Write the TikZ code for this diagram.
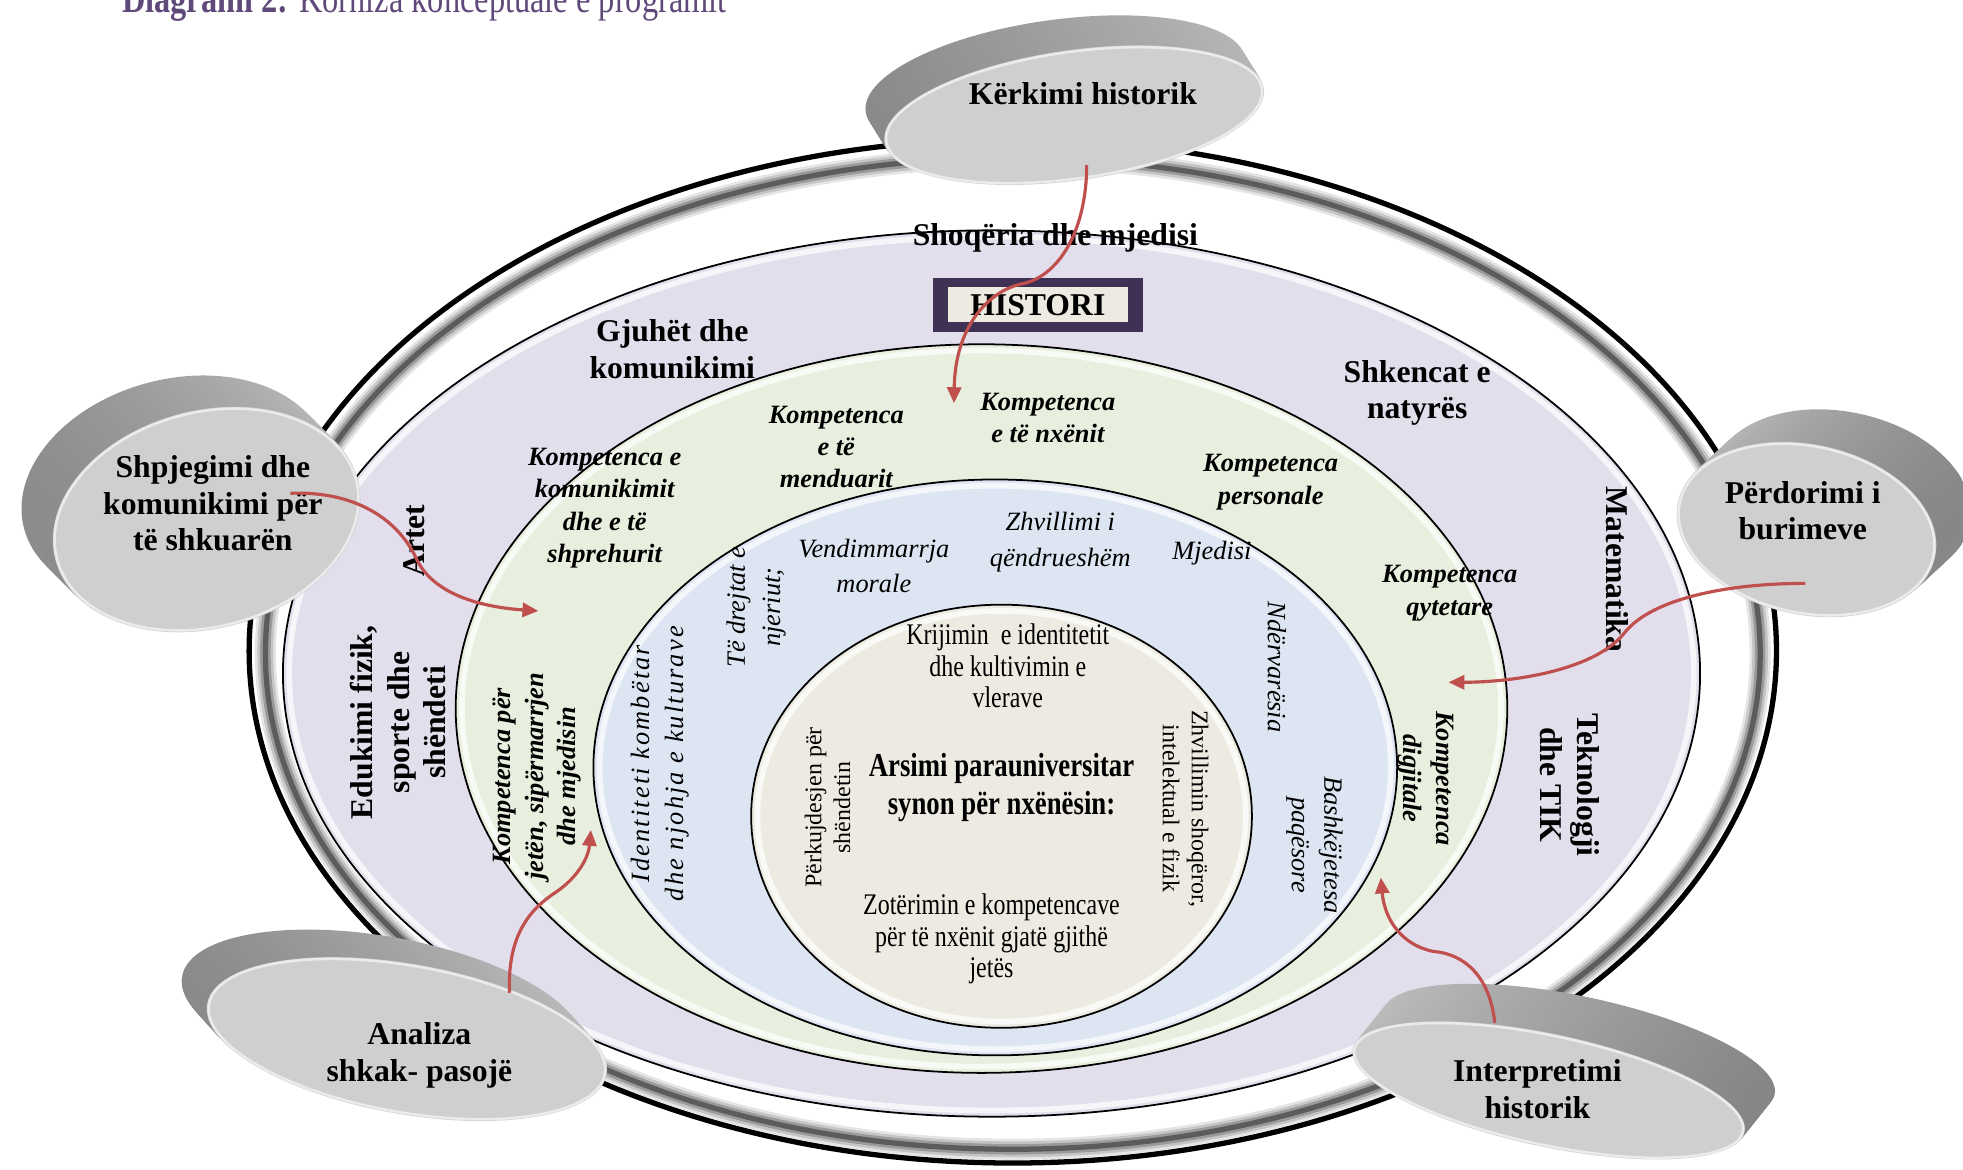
\documentclass[tikz,border=0pt]{standalone}
\usepackage{fontspec}
\setmainfont{Liberation Serif}
\newfontfamily\narrowserif{Liberation Serif}[FakeStretch=0.8]
\usetikzlibrary{arrows.meta,calc}
\definecolor{cShoq}{RGB}{227,222,236}
\definecolor{cKomp}{RGB}{232,239,222}
\definecolor{cVlera}{RGB}{220,229,241}
\definecolor{cSynim}{RGB}{237,235,225}
\definecolor{cTitull}{RGB}{95,73,122}
\definecolor{cHistori}{RGB}{63,49,84}
\definecolor{cLidhje}{RGB}{192,80,77}
\tikzset{
	fusha/.style={inner sep=0pt, align=center, font=\bfseries\fontsize{9}{10.4}\selectfont},
	kompetenca/.style={inner sep=0pt, align=center, font=\bfseries\itshape\fontsize{7.5}{9.2}\selectfont},
	vlere/.style={inner sep=0pt, align=center, font=\itshape\fontsize{7.5}{10}\selectfont},
	synim/.style={inner sep=0pt, align=center, font=\narrowserif\fontsize{8.5}{8.9}\selectfont},
	synimkthyer/.style={inner sep=0pt, align=center, font=\fontsize{6.8}{8.2}\selectfont},
	disku/.style={inner sep=0pt, align=center, font=\bfseries\fontsize{9}{10.4}\selectfont},
	lidhje/.style={draw=cLidhje, line width=0.9pt, -{Triangle[length=4.5pt,width=4pt]}},
}
\newcommand{\histdisk}[8]{%
	\foreach \s in {20,19,...,1}
		\shade[#8, shift={(#1+\s*#6/20,#2+\s*#7/20)}, rotate=#5] (0,0) ellipse [x radius=#3, y radius=#4];
	\fill[black!19, shift={(#1,#2)}, rotate=#5] (0,0) ellipse [x radius=#3, y radius=#4];
	\draw[white, opacity=0.6, line width=0.7pt, shift={(#1,#2)}, rotate=#5] (0,0) ellipse [x radius=#3-1.5, y radius=#4-1.5];
}
\begin{document}
\begin{tikzpicture}[x=0.0125cm, y=-0.0125cm]
	\useasboundingbox (0,0) rectangle (1568,934);
	\node[anchor=base west, inner sep=0pt, text=cTitull, font=\narrowserif\fontsize{11.5}{12}\selectfont] (titulli) at (97,10) {\textbf{Diagrami 2:} Korniza konceptuale e programit};
	\draw[line width=1.5pt] (809,520) ellipse [x radius=610, y radius=409];
	\foreach \w/\o in {6/0.1, 4.5/0.14, 3/0.22, 1.5/0.4}
		\draw[line width=\w*1pt, opacity=\o] (809,522) ellipse [x radius=597, y radius=396];
	\foreach \cx/\cy/\rx/\ry/\c in {792/538/566/354/cShoq, 784/566/420/291/cKomp, 795/613/321/230/cVlera, 800/652/200/169/cSynim}{
		\filldraw[fill=\c, line width=0.5pt] (\cx,\cy) ellipse [x radius=\rx, y radius=\ry];
		\draw[white, line width=1.6pt, opacity=0.7] (\cx,\cy) ellipse [x radius=\rx-5, y radius=\ry-5];
	}
	\histdisk{858}{92}{153}{52}{8}{-15}{-24}{left color=black!46, right color=black!28}
	\histdisk{165}{415}{125}{87}{15}{-25}{-25}{left color=black!46, right color=black!26}
	\histdisk{1443}{423}{105}{68}{-12}{28}{-26}{left color=black!26, right color=black!48}
	\histdisk{325}{830}{162}{60}{-10}{-20}{-22}{left color=black!46, right color=black!26}
	\histdisk{1237}{871}{160}{45}{-12}{24}{-30}{left color=black!26, right color=black!48}
	\node[fill=cHistori, minimum width=2.1cm, minimum height=0.54cm] (historiKorniza) at (829,243.5) {};
	\node[fill=cSynim, minimum width=1.79cm, minimum height=0.35cm, inner sep=0pt, font=\bfseries\fontsize{9}{10}\selectfont] (histori) at (829,243.5) {HISTORI};
	\node[fusha] (shoqeria) at (843,190) {Shoqëria dhe mjedisi};
	\node[fusha] (gjuhet) at (537,279) {Gjuhët dhe\\komunikimi};
	\node[fusha] (shkencat) at (1132,314) {Shkencat e\\natyrës};
	\node[fusha, rotate=90] (artet) at (331,432) {Artet};
	\node[fusha, rotate=90] (edukimi) at (318,577) {Edukimi fizik,\\sporte dhe\\shëndeti};
	\node[fusha, rotate=-90] (matematika) at (1292,455) {Matematika};
	\node[fusha, rotate=-90] (teknologji) at (1254,627) {Teknologji\\dhe TIK};
	\node[kompetenca] (kKomunikim) at (483,406) {Kompetenca e\\komunikimit\\dhe e të\\shprehurit};
	\node[kompetenca] (kMenduar) at (668,357) {Kompetenca\\e të\\menduarit};
	\node[kompetenca] (kNxenit) at (837,334) {Kompetenca\\e të nxënit};
	\node[kompetenca] (kPersonale) at (1015,385) {Kompetenca\\personale};
	\node[kompetenca] (kQytetare) at (1158,474) {Kompetenca\\qytetare};
	\node[kompetenca, rotate=-90] (kDigjitale) at (1139,622) {Kompetenca\\digjitale};
	\node[kompetenca, rotate=90] (kJeten) at (429,620) {Kompetenca për\\jetën, sipërmarrjen\\dhe mjedisin};
	\node[vlere] (vendim) at (698,452) {Vendimmarrja\\morale};
	\node[vlere] (zhvillimi) at (847,433) {Zhvillimi i\\qëndrueshëm};
	\node[vlere] (mjedisi) at (968,442) {Mjedisi};
	\node[vlere, rotate=90] (drejtat) at (604,485) {Të drejtat e\\njeriut;};
	\node[vlere, rotate=90, font=\itshape\fontsize{7.5}{9.6}\selectfont\addfontfeature{LetterSpace=8}] (identiteti) at (527,610) {Identiteti kombëtar\\dhe njohja e kulturave};
	\node[vlere, rotate=-90] (nderv) at (1020,533) {Ndërvarësia};
	\node[vlere, rotate=-90, font=\itshape\fontsize{7.5}{9.2}\selectfont] (bashke) at (1050,675) {Bashkëjetesa\\paqësore};
	\node[synim] (krijimi) at (805,532) {Krijimin~ e identitetit\\dhe kultivimin e\\vlerave};
	\node[synim, font=\narrowserif\bfseries\fontsize{9.5}{10.7}\selectfont] (arsimi) at (800,629) {Arsimi parauniversitar\\synon për nxënësin:};
	\node[synimkthyer, rotate=90] (perkujdes) at (661,645) {Përkujdesjen për\\shëndetin};
	\node[synimkthyer, rotate=-90] (zhvillimin) at (947,646) {Zhvillimin shoqëror,\\intelektual e fizik};
	\node[synim] (zoterimi) at (792,750) {Zotërimin e kompetencave\\për të nxënit gjatë gjithë\\jetës};
	\node[disku] (kerkimi) at (865,75) {Kërkimi historik};
	\node[disku] (shpjegimi) at (170,402) {Shpjegimi dhe\\komunikimi për\\të shkuarën};
	\node[disku] (perdorimi) at (1440,408) {Përdorimi i\\burimeve};
	\node[disku] (analiza) at (335,843) {Analiza\\shkak- pasojë};
	\node[disku] (interpretimi) at (1228,870) {Interpretimi\\historik};
	\coordinate (kerkimiTip) at (762,322);
	\coordinate (shpjegimiTip) at (430,488);
	\coordinate (perdorimiTip) at (1157,545);
	\coordinate (analizaTip) at (472,663);
	\coordinate (interpretimiTip) at (1103,701);
	\draw[lidhje] ($(kerkimi)+(3,57)$) .. controls (868,185) and (845,222) .. (815,227) .. controls (790,233) and (763,260) .. (kerkimiTip);
	\draw[lidhje] ($(shpjegimi)+(62,-8)$) .. controls (290,392) and (320,420) .. (332,445) .. controls (345,475) and (385,485) .. (shpjegimiTip);
	\draw[lidhje] ($(perdorimi)+(2,58)$) .. controls (1380,466) and (1320,478) .. (1298,505) .. controls (1275,535) and (1210,545) .. (perdorimiTip);
	\draw[lidhje] ($(analiza)+(72,-50)$) .. controls (405,745) and (425,725) .. (445,712) .. controls (462,700) and (470,685) .. (analizaTip);
	\draw[lidhje] ($(interpretimi)+(-34,-53)$) .. controls (1190,780) and (1170,762) .. (1145,760) .. controls (1120,755) and (1106,735) .. (interpretimiTip);
\end{tikzpicture}
\end{document}
